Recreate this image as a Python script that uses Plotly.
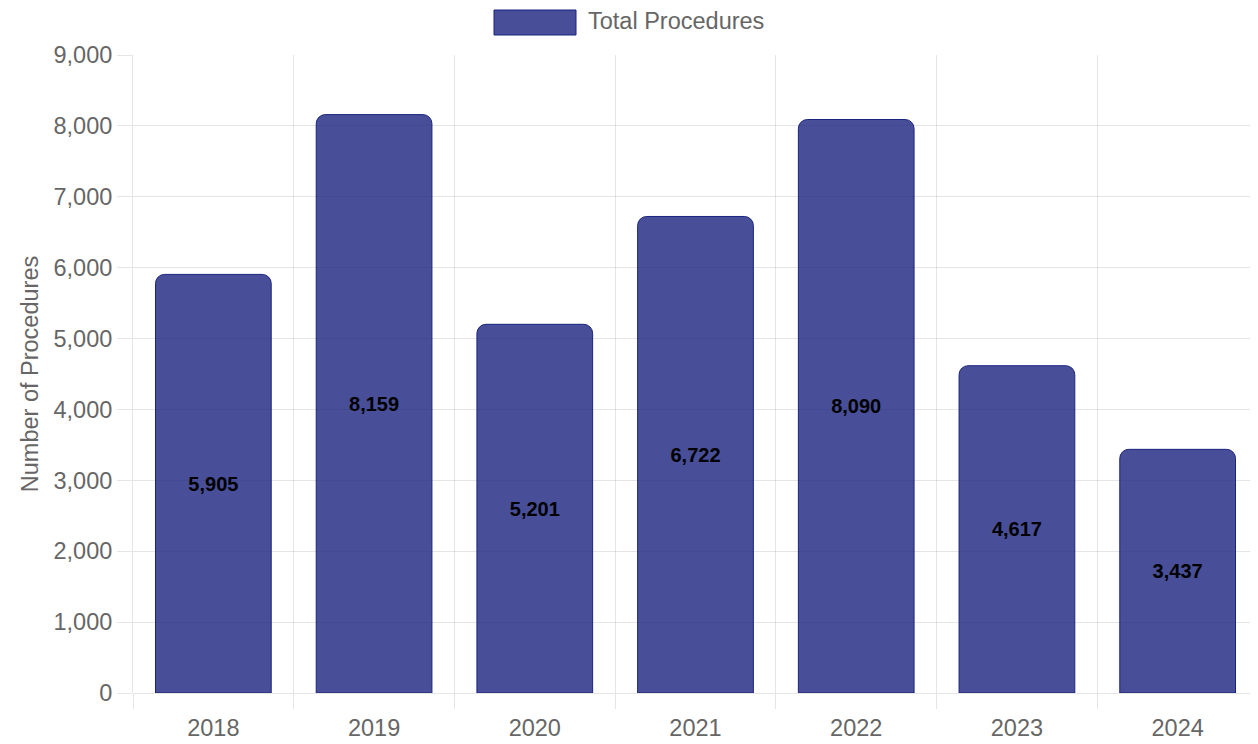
import plotly.graph_objects as go

years = ["2018", "2019", "2020", "2021", "2022", "2023", "2024"]
procedures = [5905, 8159, 5201, 6722, 8090, 4617, 3437]
series_name = "Total Procedures"
y_title = "Number of Procedures"

FONT = "Liberation Sans, Arial, Helvetica, sans-serif"
GRID = "rgba(0,0,0,0.1)"
FILL = "rgba(26,35,126,0.8)"
EDGE = "rgb(26,35,126)"
FS = 23.5

fig = go.Figure()
fig.add_trace(go.Bar(
    x=years,
    y=procedures,
    name=series_name,
    marker=dict(color=FILL, line=dict(color=EDGE, width=1)),
    text=[f"{v:,}" for v in procedures],
    textposition="inside",
    insidetextanchor="middle",
    textfont=dict(family=FONT, size=20, color="black", weight="bold"),
    textangle=0,
    width=0.72,
    showlegend=False,
    hoverinfo="skip",
))

# page has an 8px body margin, so the figure is sized/offset to compensate
W, H = 1250, 736
L, T, B, R = 125, 47, 51, 0
PW, PH = W - L - R, H - T - B

fig.update_layout(
    width=W, height=H,
    margin=dict(l=L, r=R, t=T, b=B),
    paper_bgcolor="white", plot_bgcolor="white",
    font=dict(family=FONT, color="#666666", size=FS),
    barcornerradius=9,
    xaxis=dict(
        type="category",
        tickson="boundaries",
        showgrid=True, gridcolor=GRID, gridwidth=1,
        ticks="outside", ticklen=15, tickcolor=GRID,
        ticklabelstandoff=18,
        showline=False,
        tickfont=dict(size=FS, color="#666666"),
    ),
    yaxis=dict(
        range=[0, 9000], dtick=1000, tickformat=",",
        showgrid=True, gridcolor=GRID, gridwidth=1,
        zeroline=True, zerolinecolor=GRID, zerolinewidth=1,
        showline=True, linecolor=GRID, linewidth=1,
        ticks="outside", ticklen=15, tickcolor=GRID,
        tickfont=dict(size=FS, color="#666666"),
        title=dict(text=y_title, font=dict(size=FS, color="#666666"), standoff=8),
    ),
)

# legend drawn as a box + text above the plot (target page coords minus 8px offset)
def px_x(x):
    return (x - 8 - L) / PW

def px_y(y):
    return (H - B - (y - 8)) / PH

fig.add_shape(type="rect", xref="paper", yref="paper",
              x0=px_x(494), x1=px_x(576), y0=px_y(35), y1=px_y(10),
              fillcolor=FILL, line=dict(color=EDGE, width=1))
fig.add_annotation(xref="paper", yref="paper",
                   x=px_x(586), y=px_y(21),
                   xanchor="left", yanchor="middle", showarrow=False,
                   text=series_name, font=dict(size=FS, color="#666666"))

fig.write_html("out.html")
